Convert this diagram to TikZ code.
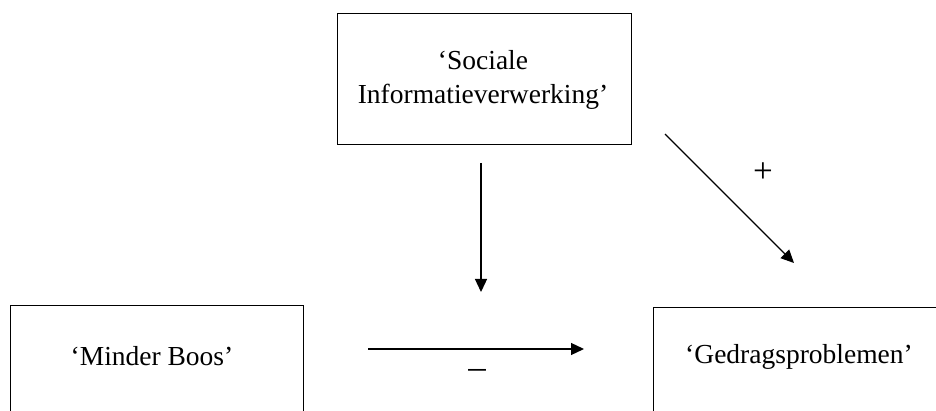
\documentclass[tikz,border=0pt]{standalone}
\usepackage{fontspec}
\setmainfont{Liberation Serif}
\usetikzlibrary{arrows.meta}
\begin{document}
\begin{tikzpicture}[x=1pt,y=-1pt,
  box/.style={draw=black, line width=1.1pt, rectangle, inner sep=0pt},
  lbl/.style={inner sep=0pt, font=\fontsize{27.5}{34}\selectfont, align=center},
  sign/.style={inner sep=0pt, font=\fontsize{35}{35}\selectfont},
  arr/.style={draw=black, line width=1.3pt, -{Triangle[length=13pt,width=12pt]}}]
\useasboundingbox (0,0) rectangle (936,411);
\clip (0,0) rectangle (936,411);
\fill[white] (0,0) rectangle (936,411);
% boxes
\node[box, minimum width=294pt, minimum height=131pt, anchor=north west] (sib) at (337,13) {};
\node[lbl] (sit) at (483,80) {‘Sociale\\Informatieverwerking’};
\node[box, minimum width=293pt, minimum height=131pt, anchor=north west] (mbb) at (10,305) {};
\node[lbl] (mbt) at (152,356) {‘Minder Boos’};
\node[box, minimum width=310pt, minimum height=131pt, anchor=north west] (gpb) at (653,307) {};
\node[lbl] (gpt) at (799,357) {‘Gedragsproblemen’};
% arrow end points
\coordinate (v1) at (481,163);
\coordinate (v2) at (481,292);
\coordinate (h1) at (368,349);
\coordinate (h2) at (584,349);
\coordinate (d1) at (665,134);
\coordinate (d2) at (794,263);
\draw[arr] (v1) -- (v2);
\draw[arr] (h1) -- (h2);
\draw[arr] (d1) -- (d2);
% signs
\node[sign] (minus) at (477,374) {–};
\node[sign] (plus) at (763,173) {+};
\end{tikzpicture}
\end{document}
